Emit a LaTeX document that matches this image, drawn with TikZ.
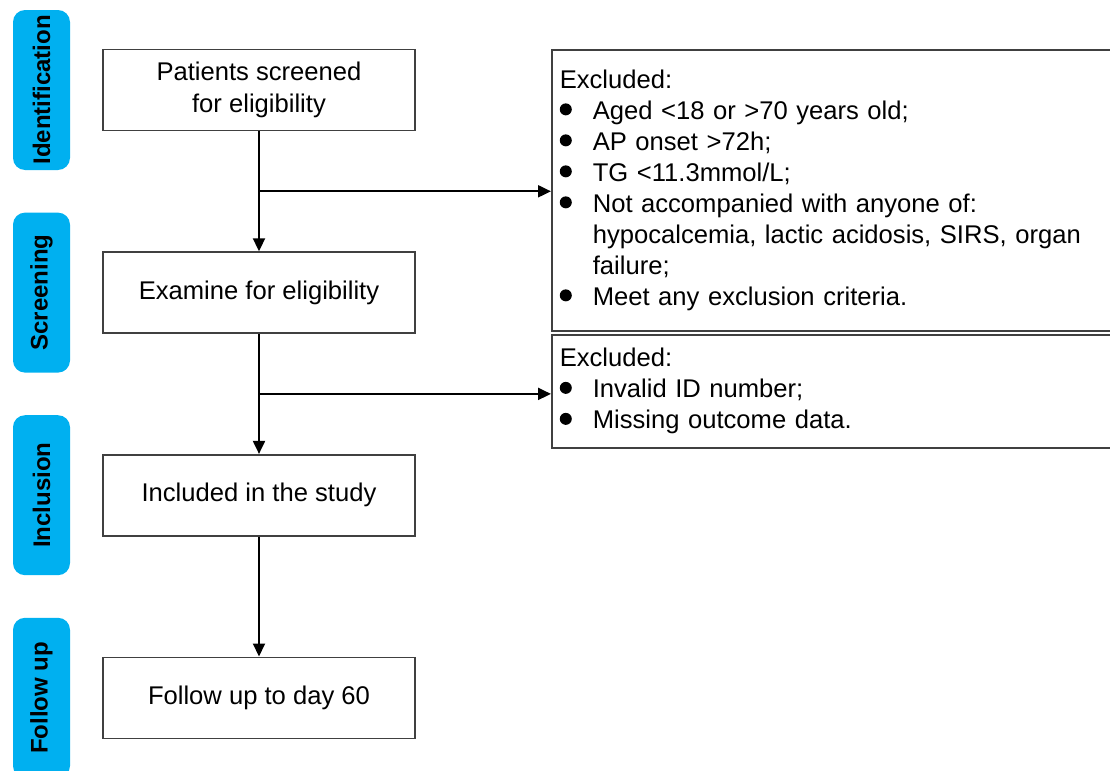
\documentclass[tikz,border=0pt]{standalone}
\usepackage{fontspec}
\setmainfont{Liberation Sans}
\usetikzlibrary{arrows.meta,positioning,calc}
\definecolor{stageblue}{RGB}{0,176,240}
\newcommand{\bul}{\makebox[16.5pt][l]{\raisebox{0.3ex}{\tikz\fill (0,0) circle (3pt);}}}
\newcommand{\cont}{\hspace*{16.5pt}}
\tikzset{
  stage/.style={fill=stageblue, rounded corners=6pt, rotate=90, minimum width=80pt,
    minimum height=28.5pt, inner sep=0pt, font=\fontsize{12pt}{14pt}\selectfont\bfseries},
  stepbox/.style={draw=black!75, line width=0.8pt, minimum width=156pt, minimum height=40.5pt,
    align=center, font=\fontsize{12.8pt}{16pt}\selectfont},
  exbox/.style={draw=black!75, line width=0.8pt, anchor=north west, text width=280pt,
    inner xsep=4pt, align=left, font=\fontsize{12.8pt}{15.5pt}\selectfont},
  flow/.style={-{Triangle[length=6.5pt,width=6pt]}, black, line width=1pt}
}

\begin{document}
\begin{tikzpicture}[x=0.5pt,y=-0.5pt,node distance=60pt]
    \useasboundingbox (0,0) rectangle (1110,771);
    \clip (0,0) rectangle (1110,771);
    % Steps
    \node[stepbox] (p1) at (259,90) {Patients screened\\for eligibility};
    \node[stepbox, below=of p1] (p2) {Examine for eligibility};
    \node[stepbox, below=of p2] (p3) {Included in the study};
    \node[stepbox, below=of p3] (p4) {Follow up to day 60};

    % Stages
    \coordinate (barx) at (41.5,0);
    \node[stage] (s1) at (barx |- p1) {Identification};
    \node[stage] (s2) at (barx |- p2) {Screening};
    \node[stage] (s3) at (barx |- p3) {Inclusion};
    \node[stage] (s4) at (barx |- p4) {Follow up};

    % Exclusions
    \node[exbox, minimum height=140.5pt] (ex1) at (551,49) {Excluded:\\
        \bul Aged <18 or >70 years old;\\
        \bul AP onset >72h;\\
        \bul TG <11.3mmol/L;\\
        \bul Not accompanied with anyone of:\\
        \cont hypocalcemia, lactic acidosis, SIRS, organ\\
        \cont failure;\\
        \bul Meet any exclusion criteria.};
    \node[exbox, minimum height=56.5pt] (ex2) at (551,334) {Excluded:\\
        \bul Invalid ID number;\\
        \bul Missing outcome data.};

    % Edges
    \foreach \source/\target in {p1/p2, p2/p3, p3/p4} {
            \draw[flow] (\source) -- (\target);
        }
    \coordinate (b1) at ($(p1.south)!0.5!(p2.north)$);
    \coordinate (b2) at ($(p2.south)!0.5!(p3.north)$);
    \draw[flow] (b1) -- (b1 -| ex1.west);
    \draw[flow] (b2) -- (b2 -| ex2.west);
\end{tikzpicture}
\end{document}
